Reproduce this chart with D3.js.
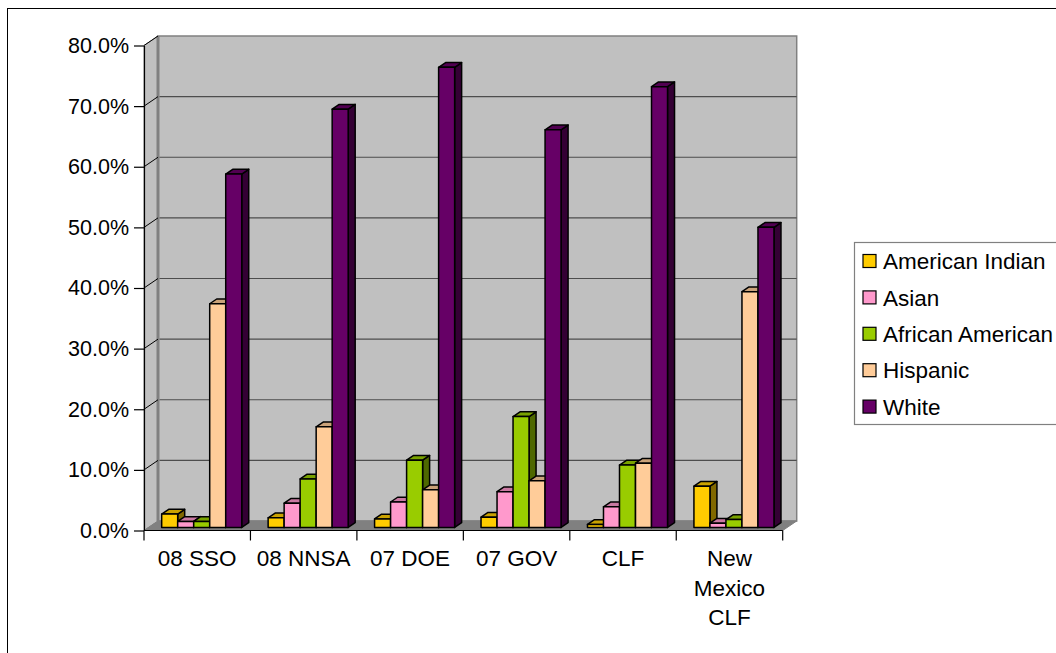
<!DOCTYPE html>
<html>
<head>
<meta charset="utf-8">
<script src="https://cdn.jsdelivr.net/npm/d3@7"></script>
<style>
  body { margin: 0; background: #fff; }
  svg text { font-family: "Liberation Sans", Arial, sans-serif; fill: #000; }
</style>
</head>
<body>
<div id="chart"></div>
<script>
// chart data
var categories = ["08 SSO", "08 NNSA", "07 DOE", "07 GOV", "CLF", "New Mexico CLF"];
var seriesNames = ["American Indian", "Asian", "African American", "Hispanic", "White"];
var americanIndian  = [0.022, 0.016, 0.014, 0.017, 0.005, 0.068];
var asian           = [0.010, 0.040, 0.042, 0.059, 0.034, 0.007];
var africanAmerican = [0.010, 0.080, 0.111, 0.183, 0.103, 0.013];
var hispanic        = [0.369, 0.166, 0.062, 0.077, 0.106, 0.389];
var white           = [0.583, 0.690, 0.759, 0.656, 0.727, 0.495];
var seriesColors = ["#FFCC00", "#FF99CC", "#99CC00", "#FFCC99", "#660066"];
var yTicks = [0, 0.1, 0.2, 0.3, 0.4, 0.5, 0.6, 0.7, 0.8];

var allSeries = [americanIndian, asian, africanAmerican, hispanic, white];

var svgWidth = 1056;
var svgHeight = 653;

// 3d depth of the plot box, and where the bars sit inside it
var depthX = 14, depthY = -9.5;
var barFront = 0.32, barDepth = 0.5;

var svg = d3.select("#chart")
  .append("svg")
  .attr("width", svgWidth)
  .attr("height", svgHeight);

// outer chart border
svg.append("rect")
  .attr("x", 7.5).attr("y", 8.5)
  .attr("width", 1100).attr("height", 700)
  .attr("fill", "#fff")
  .attr("stroke", "#000")
  .attr("stroke-width", 1);

var x0 = d3.scaleBand()
  .domain(categories)
  .range([144, 782.7]);

var x1 = d3.scaleBand()
  .domain(seriesNames)
  .range([13.2, x0.bandwidth() - 13.2]);

var y = d3.scaleLinear()
  .domain([0, 0.8])
  .range([530.5, 45.5]);

var xLeft = x0.range()[0], xRight = x0.range()[1];
var yBottom = y(0), yTop = y(0.8);

// walls and floor
var walls = svg.append("g");

walls.append("polygon")
  .attr("points", [[xLeft, yTop], [xLeft + depthX, yTop + depthY], [xLeft + depthX, yBottom + depthY], [xLeft, yBottom]].join(" "))
  .attr("fill", "#c0c0c0")
  .attr("stroke", "#808080")
  .attr("stroke-width", 1);

walls.append("rect")
  .attr("x", xLeft + depthX)
  .attr("y", yTop + depthY)
  .attr("width", xRight - xLeft)
  .attr("height", yBottom - yTop)
  .attr("fill", "#c0c0c0")
  .attr("stroke", "#808080")
  .attr("stroke-width", 1.5);

walls.append("polygon")
  .attr("points", [[xLeft, yBottom], [xRight, yBottom], [xRight + depthX, yBottom + depthY], [xLeft + depthX, yBottom + depthY]].join(" "))
  .attr("fill", "#808080")
  .attr("stroke", "#808080")
  .attr("stroke-width", 1);

// left wall back edge
walls.append("line")
  .attr("x1", xLeft + depthX).attr("x2", xLeft + depthX)
  .attr("y1", yTop + depthY).attr("y2", yBottom + depthY)
  .attr("stroke", "#808080")
  .attr("stroke-width", 3);

// gridlines on the back wall and side wall
var grid = svg.append("g");
grid.selectAll(".gback")
  .data(yTicks.slice(1, -1))
  .enter().append("line")
  .attr("x1", xLeft + depthX + 1.5)
  .attr("x2", xRight + depthX)
  .attr("y1", d => y(d) + depthY)
  .attr("y2", d => y(d) + depthY)
  .attr("stroke", "#4d4d4d")
  .attr("stroke-width", 1.2);

grid.selectAll(".gside")
  .data(yTicks.slice(1))
  .enter().append("line")
  .attr("x1", xLeft)
  .attr("x2", xLeft + depthX)
  .attr("y1", d => y(d))
  .attr("y2", d => y(d) + depthY)
  .attr("stroke", "#000")
  .attr("stroke-width", 1);

// bars
var barsGroup = svg.append("g");
var fx = depthX * barFront, fy = depthY * barFront;
var dx = depthX * barDepth, dy = depthY * barDepth;

categories.forEach(function(cat, ci) {
  seriesNames.forEach(function(name, si) {
    var v = allSeries[si][ci];
    var left = x0(cat) + x1(name) + fx;
    var right = left + x1.bandwidth();
    var top = y(v) + fy;
    var bottom = y(0) + fy;
    var c = d3.color(seriesColors[si]);
    var g = barsGroup.append("g")
      .attr("stroke", "#000")
      .attr("stroke-width", 1.5)
      .attr("stroke-linejoin", "round");
    // side face
    g.append("polygon")
      .attr("points", [[right, top], [right + dx, top + dy], [right + dx, bottom + dy], [right, bottom]].join(" "))
      .attr("fill", c.darker(1.9));
    // top face
    g.append("polygon")
      .attr("points", [[left, top], [left + dx, top + dy], [right + dx, top + dy], [right, top]].join(" "))
      .attr("fill", c.darker(0.65));
    // front face
    g.append("rect")
      .attr("x", left)
      .attr("y", top)
      .attr("width", right - left)
      .attr("height", bottom - top)
      .attr("fill", c);
  });
});

// y axis
var leftAxis = d3.axisLeft(y)
  .tickValues(yTicks)
  .tickFormat(d3.format(".1%"))
  .tickSize(10)
  .tickSizeOuter(0)
  .tickPadding(5);

var yAxis = svg.append("g")
  .attr("transform", `translate(${xLeft}, 0)`)
  .call(leftAxis);
yAxis.select(".domain").attr("stroke", "#000").attr("stroke-width", 1.2);
yAxis.selectAll(".tick line").attr("stroke", "#000").attr("stroke-width", 1.2);
yAxis.selectAll(".tick text")
  .attr("font-size", "21.5px")
  .attr("font-family", "Liberation Sans, Arial, sans-serif")
  .attr("fill", "#000");

// x axis line and boundary ticks
var xAxisG = svg.append("g");
xAxisG.append("line")
  .attr("x1", xLeft).attr("x2", xRight)
  .attr("y1", yBottom).attr("y2", yBottom)
  .attr("stroke", "#000")
  .attr("stroke-width", 1.2);

xAxisG.selectAll(".xtick")
  .data(categories.map(c => x0(c)).concat([xRight]))
  .enter().append("line")
  .attr("x1", d => d).attr("x2", d => d)
  .attr("y1", yBottom).attr("y2", yBottom + 10)
  .attr("stroke", "#000")
  .attr("stroke-width", 1.2);

// category labels, wrapped like the original
var labelLines = {
  "New Mexico CLF": ["New", "Mexico", "CLF"]
};
categories.forEach(function(cat) {
  var lines = labelLines[cat] || [cat];
  var t = xAxisG.append("text")
    .attr("x", x0(cat) + x0.bandwidth() / 2)
    .attr("y", 566)
    .attr("text-anchor", "middle")
    .attr("font-size", "22.5px");
  lines.forEach(function(line, i) {
    t.append("tspan")
      .attr("x", x0(cat) + x0.bandwidth() / 2)
      .attr("dy", i === 0 ? 0 : 29.5)
      .text(line);
  });
});

// legend
var legend = svg.append("g");
legend.append("rect")
  .attr("x", 854.5).attr("y", 242.5)
  .attr("width", 300).attr("height", 182)
  .attr("fill", "#fff")
  .attr("stroke", "#808080")
  .attr("stroke-width", 1.2);

var legendItems = legend.selectAll(".item")
  .data(seriesNames)
  .enter().append("g")
  .attr("transform", (d, i) => `translate(863, ${261 + i * 36.4})`);

legendItems.append("rect")
  .attr("x", 0).attr("y", -6.5)
  .attr("width", 13).attr("height", 13)
  .attr("fill", (d, i) => seriesColors[i])
  .attr("stroke", "#000")
  .attr("stroke-width", 1.2);

legendItems.append("text")
  .attr("x", 20)
  .attr("y", 0)
  .attr("dy", "0.36em")
  .attr("font-size", "22.5px")
  .text(d => d);
</script>
</body>
</html>
